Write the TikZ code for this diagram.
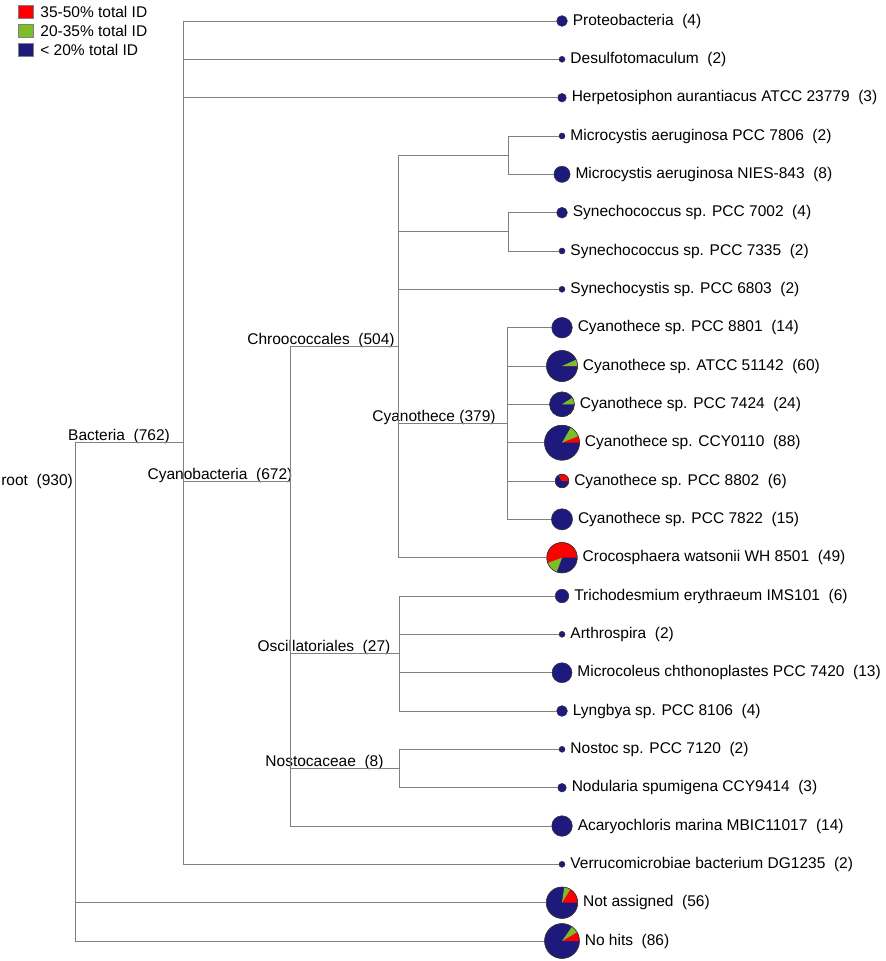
\documentclass[tikz,border=0pt]{standalone}
\usepackage{fontspec}
\setmainfont{Liberation Sans}
\usetikzlibrary{positioning}
\definecolor{idred}{RGB}{255,0,0}
\definecolor{idgreen}{RGB}{125,190,40}
\definecolor{idnavy}{RGB}{30,25,125}
\definecolor{branch}{RGB}{128,128,128}
\newcommand{\slices}[4]{%
	\fill[idred] (#1.center) -- +(0:#2pt) arc (0:#3:#2pt) -- cycle;
	\fill[idgreen] (#1.center) -- +(#3:#2pt) arc (#3:#4:#2pt) -- cycle;
	\draw[black!80,line width=0.5pt] (#1.center) circle (#2pt);}

\begin{document}
\begin{tikzpicture}[x=1pt,y=-1pt,
		edge/.style={draw=branch,line width=1pt},
		leaf/.style={circle,draw=black!80,line width=0.5pt,fill=idnavy,inner sep=0pt},
		txt/.style={font=\fontsize{15.5}{18}\selectfont,inner sep=0pt},
		key/.style={draw=black!50,line width=0.4pt,minimum width=15pt,minimum height=13pt,inner sep=0pt}]
	\useasboundingbox (0,0) rectangle (886,961);

	\node[key,fill=idred] (kred) at (25.5,12) {};
	\node[key,fill=idgreen] (kgreen) at (25.5,31) {};
	\node[key,fill=idnavy] (knavy) at (25.5,50) {};
	\node[txt,right=7pt of kred] (kred-l) {35-50\% total ID};
	\node[txt,right=7pt of kgreen] (kgreen-l) {20-35\% total ID};
	\node[txt,right=7pt of knavy] (knavy-l) {< 20\% total ID};

	\coordinate (root) at (75,481);
	\coordinate (bact) at (183,442.7);
	\coordinate (cyano) at (290,481);
	\coordinate (chroo) at (398,346.8);
	\coordinate (micro) at (508,155.2);
	\coordinate (synco) at (508,231.8);
	\coordinate (cyanoth) at (507,423.5);
	\coordinate (oscil) at (399,653.5);
	\coordinate (nosto) at (399,768.5);

	\node[txt,anchor=east] (root-l) at (73,481) {root~~(930)};
	\node[txt,anchor=base] (bact-l) at (119,440.7) {Bacteria~~(762)};
	\node[txt,anchor=base] (cyano-l) at (220,479) {Cyanobacteria~~(672)};
	\node[txt,anchor=base] (chroo-l) at (321,344.8) {Chroococcales~~(504)};
	\node[txt,anchor=base] (cyanoth-l) at (434,421.5) {Cyanothece (379)};
	\node[txt,anchor=base] (oscil-l) at (324,651.5) {Oscillatoriales~~(27)};
	\node[txt,anchor=base] (nosto-l) at (324.5,766.5) {Nostocaceae~~(8)};

	\node[leaf,minimum size=10.8pt] (prot) at (562,21) {};
	\node[leaf,minimum size=6pt] (desulf) at (562,59.3) {};
	\node[leaf,minimum size=8.6pt] (herp) at (562,97.7) {};
	\node[leaf,minimum size=6pt] (mpcc) at (562,136) {};
	\node[leaf,minimum size=16.2pt] (mnies) at (562,174.3) {};
	\node[leaf,minimum size=10.8pt] (s7002) at (562,212.7) {};
	\node[leaf,minimum size=6pt] (s7335) at (562,251) {};
	\node[leaf,minimum size=6pt] (s6803) at (562,289.3) {};
	\node[leaf,minimum size=20.6pt] (c8801) at (562,327.7) {};
	\node[leaf,minimum size=31pt] (c51142) at (562,366) {};
	\node[leaf,minimum size=24.8pt] (c7424) at (562,404.3) {};
	\node[leaf,minimum size=35pt] (c0110) at (562,442.7) {};
	\node[leaf,minimum size=13.6pt] (c8802) at (562,481) {};
	\node[leaf,minimum size=21.2pt] (c7822) at (562,519.3) {};
	\node[leaf,minimum size=30.4pt] (croco) at (562,557.7) {};
	\node[leaf,minimum size=13.6pt] (tricho) at (562,596) {};
	\node[leaf,minimum size=6pt] (arth) at (562,634.3) {};
	\node[leaf,minimum size=20pt] (mcol) at (562,672.7) {};
	\node[leaf,minimum size=10.8pt] (lyng) at (562,711) {};
	\node[leaf,minimum size=6pt] (nostoc) at (562,749.3) {};
	\node[leaf,minimum size=8.6pt] (nodul) at (562,787.7) {};
	\node[leaf,minimum size=20.6pt] (acary) at (562,826) {};
	\node[leaf,minimum size=6pt] (verru) at (562,864.3) {};
	\node[leaf,minimum size=31.4pt] (nota) at (562,902.7) {};
	\node[leaf,minimum size=34.8pt] (nohit) at (562,941) {};

	\slices{c51142}{15.5}{0}{24}
	\slices{c7424}{12.4}{0}{33}
	\slices{c0110}{17.5}{22}{60}
	\slices{c8802}{6.8}{120}{120}
	\slices{croco}{15.2}{200}{250}
	\slices{nota}{15.7}{58}{82}
	\slices{nohit}{17.4}{30}{55}

	\node[txt,right=5pt of prot] (prot-l) {Proteobacteria~~(4)};
	\node[txt,right=5pt of desulf] (desulf-l) {Desulfotomaculum~~(2)};
	\node[txt,right=5pt of herp] (herp-l) {Herpetosiphon aurantiacus ATCC 23779~~(3)};
	\node[txt,right=5pt of mpcc] (mpcc-l) {Microcystis aeruginosa PCC 7806~~(2)};
	\node[txt,right=5pt of mnies] (mnies-l) {Microcystis aeruginosa NIES-843~~(8)};
	\node[txt,right=5pt of s7002] (s7002-l) {Synechococcus sp. PCC 7002~~(4)};
	\node[txt,right=5pt of s7335] (s7335-l) {Synechococcus sp. PCC 7335~~(2)};
	\node[txt,right=5pt of s6803] (s6803-l) {Synechocystis sp. PCC 6803~~(2)};
	\node[txt,right=5pt of c8801] (c8801-l) {Cyanothece sp. PCC 8801~~(14)};
	\node[txt,right=5pt of c51142] (c51142-l) {Cyanothece sp. ATCC 51142~~(60)};
	\node[txt,right=5pt of c7424] (c7424-l) {Cyanothece sp. PCC 7424~~(24)};
	\node[txt,right=5pt of c0110] (c0110-l) {Cyanothece sp. CCY0110~~(88)};
	\node[txt,right=5pt of c8802] (c8802-l) {Cyanothece sp. PCC 8802~~(6)};
	\node[txt,right=5pt of c7822] (c7822-l) {Cyanothece sp. PCC 7822~~(15)};
	\node[txt,right=5pt of croco] (croco-l) {Crocosphaera watsonii WH 8501~~(49)};
	\node[txt,right=5pt of tricho] (tricho-l) {Trichodesmium erythraeum IMS101~~(6)};
	\node[txt,right=5pt of arth] (arth-l) {Arthrospira~~(2)};
	\node[txt,right=5pt of mcol] (mcol-l) {Microcoleus chthonoplastes PCC 7420~~(13)};
	\node[txt,right=5pt of lyng] (lyng-l) {Lyngbya sp. PCC 8106~~(4)};
	\node[txt,right=5pt of nostoc] (nostoc-l) {Nostoc sp. PCC 7120~~(2)};
	\node[txt,right=5pt of nodul] (nodul-l) {Nodularia spumigena CCY9414~~(3)};
	\node[txt,right=5pt of acary] (acary-l) {Acaryochloris marina MBIC11017~~(14)};
	\node[txt,right=5pt of verru] (verru-l) {Verrucomicrobiae bacterium DG1235~~(2)};
	\node[txt,right=5pt of nota] (nota-l) {Not assigned~~(56)};
	\node[txt,right=5pt of nohit] (nohit-l) {No hits~~(86)};

	\draw[edge] (root) |- (bact) (root) |- (nota) (root) |- (nohit);
	\draw[edge] (bact) |- (prot) (bact) |- (desulf) (bact) |- (herp) (bact) |- (cyano) (bact) |- (verru);
	\draw[edge] (cyano) |- (chroo) (cyano) |- (oscil) (cyano) |- (nosto) (cyano) |- (acary);
	\draw[edge] (chroo) |- (micro) (chroo) |- (synco) (chroo) |- (s6803) (chroo) |- (cyanoth) (chroo) |- (croco);
	\draw[edge] (micro) |- (mpcc) (micro) |- (mnies);
	\draw[edge] (synco) |- (s7002) (synco) |- (s7335);
	\draw[edge] (cyanoth) |- (c8801) (cyanoth) |- (c51142) (cyanoth) |- (c7424) (cyanoth) |- (c0110) (cyanoth) |- (c8802) (cyanoth) |- (c7822);
	\draw[edge] (oscil) |- (tricho) (oscil) |- (arth) (oscil) |- (mcol) (oscil) |- (lyng);
	\draw[edge] (nosto) |- (nostoc) (nosto) |- (nodul);
\end{tikzpicture}
\end{document}
